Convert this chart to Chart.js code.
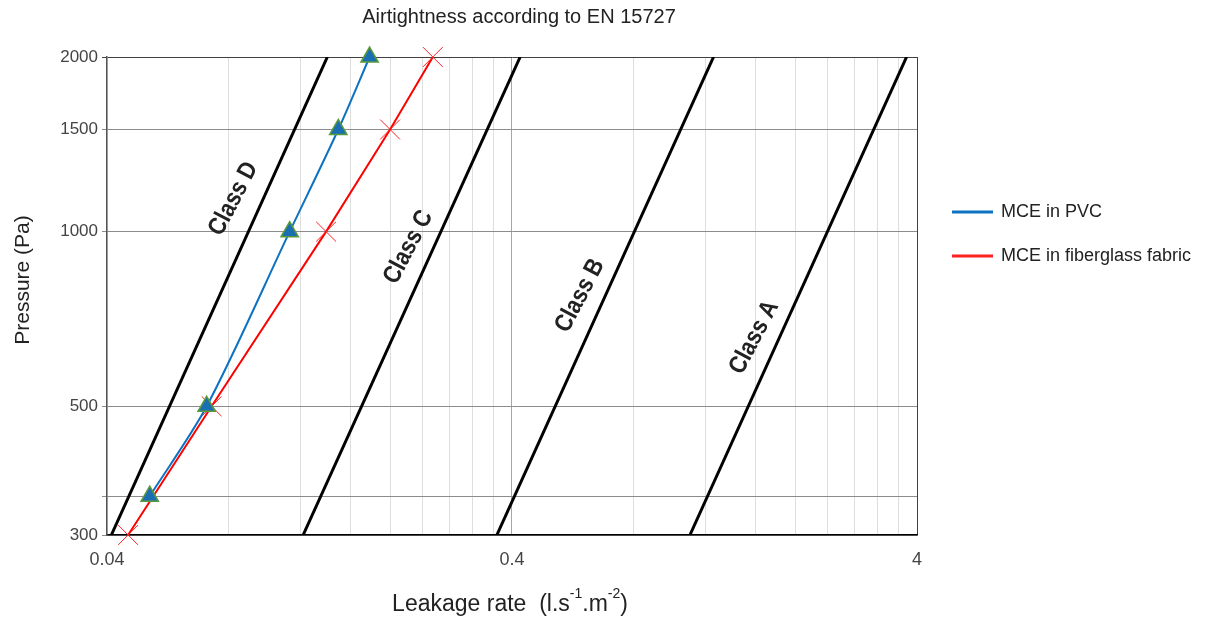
<!DOCTYPE html>
<html>
<head>
<meta charset="utf-8">
<script src="https://cdn.jsdelivr.net/npm/chart.js@4.4.1/dist/chart.umd.min.js"></script>
<style>
  body { margin: 0; background: #fff; }
  #wrap { width: 1206px; height: 619px; position: relative; }
</style>
</head>
<body>
<div id="wrap"><canvas id="airChart"></canvas></div>
<script>
// Chart data
const chartTitle = "Airtightness according to EN 15727";
const seriesNames = ["MCE in PVC", "MCE in fiberglass fabric"];

// MCE in PVC (triangles)
const pvcPressure = [350, 500, 1000, 1500, 2000];
const pvcLeakage = [0.051, 0.0705, 0.113, 0.149, 0.178];

// MCE in fiberglass fabric (crosses)
const fabricPressure = [300, 500, 1000, 1500, 2000];
const fabricLeakage = [0.0451, 0.0725, 0.139, 0.200, 0.255];

// Class limit lines: leakage at 300 Pa and at 2000 Pa
const classNames = ["Class D", "Class C", "Class B", "Class A"];
const classPressure = [300, 2000];
const classD = [0.041, 0.140];
const classC = [0.122, 0.419];
const classB = [0.367, 1.258];
const classA = [1.10, 3.77];
const classLeakage = [classD, classC, classB, classA];
const classLabelPressure = [1090, 905, 747, 633];

// Axis ticks / gridlines
const xTickValues = [0.04, 0.08, 0.12, 0.16, 0.2, 0.24, 0.28, 0.32, 0.36, 0.4,
                     0.8, 1.2, 1.6, 2, 2.4, 2.8, 3.2, 3.6, 4];
const xTickLabels = [0.04, 0.4, 4];
const yTickValues = [300, 350, 500, 1000, 1500, 2000];
const yTickLabels = [300, 500, 1000, 1500, 2000];

const FONT = '"Liberation Sans", Arial, sans-serif';

function toPoints(xs, ys) {
    return xs.map((x, i) => ({ x: x, y: ys[i] }));
}

// Titles, class labels and legend drawn on the canvas
const extrasPlugin = {
    id: "extras",
    afterDraw(chart) {
        const ctx = chart.ctx;
        const xs = chart.scales.x;
        const ys = chart.scales.y;
        ctx.save();

        // title
        ctx.fillStyle = "#222";
        ctx.font = "20px " + FONT;
        ctx.textAlign = "center";
        ctx.textBaseline = "middle";
        ctx.fillText(chartTitle, 519, 17);

        // y axis title
        ctx.save();
        ctx.translate(23, 280);
        ctx.rotate(-Math.PI / 2);
        ctx.font = "21px " + FONT;
        ctx.fillText("Pressure (Pa)", 0, 0);
        ctx.restore();

        // x axis title with superscripts
        const parts = [["Leakage rate  (l.s", false], ["-1", true], [".m", false], ["-2", true], [")", false]];
        const big = "23px " + FONT, small = "14px " + FONT;
        let total = 0;
        parts.forEach(p => { ctx.font = p[1] ? small : big; total += ctx.measureText(p[0]).width; });
        let cx = 510 - total / 2;
        ctx.textAlign = "left";
        ctx.textBaseline = "alphabetic";
        parts.forEach(p => {
            ctx.font = p[1] ? small : big;
            ctx.fillText(p[0], cx, p[1] ? 598 : 611);
            cx += ctx.measureText(p[0]).width;
        });

        // class labels along the lines (text a little less steep than the line)
        ctx.font = "bold 25px " + FONT;
        ctx.fillStyle = "#222";
        ctx.textAlign = "center";
        classLeakage.forEach((c, i) => {
            const x0 = xs.getPixelForValue(c[0]), y0 = ys.getPixelForValue(classPressure[0]);
            const x1 = xs.getPixelForValue(c[1]), y1 = ys.getPixelForValue(classPressure[1]);
            const py = ys.getPixelForValue(classLabelPressure[i]);
            const t = (py - y0) / (y1 - y0);
            const px = x0 + t * (x1 - x0);
            const ang = Math.atan2(y1 - y0, x1 - x0);
            const off = i === 0 ? 27 : 23;
            ctx.save();
            ctx.translate(px + Math.sin(ang) * off, py - Math.cos(ang) * off);
            ctx.rotate(ang + 0.06);
            ctx.scale(0.86, 1);
            ctx.textBaseline = "middle";
            ctx.fillText(classNames[i], 0, 0);
            ctx.restore();
        });

        // legend
        const legendColors = ["#0c72c1", "#ff2020"];
        const legendY = [212, 256];
        ctx.font = "18px " + FONT;
        ctx.textAlign = "left";
        ctx.textBaseline = "middle";
        seriesNames.forEach((name, i) => {
            ctx.strokeStyle = legendColors[i];
            ctx.lineWidth = 3;
            ctx.beginPath();
            ctx.moveTo(952, legendY[i]);
            ctx.lineTo(993, legendY[i]);
            ctx.stroke();
            ctx.fillStyle = "#222";
            ctx.fillText(name, 1001, legendY[i]);
        });
        ctx.restore();
    }
};

const classDatasets = classLeakage.map((c, i) => ({
    label: classNames[i],
    data: toPoints(c, classPressure),
    showLine: true,
    borderColor: "#000",
    borderWidth: 3,
    pointRadius: 0,
    order: 1
}));

const ctx = document.getElementById("airChart").getContext("2d");
const airChart = new Chart(ctx, {
    type: "scatter",
    data: {
        datasets: [
            {
                label: seriesNames[0],
                data: toPoints(pvcLeakage, pvcPressure),
                showLine: true,
                borderColor: "#0c72c1",
                borderWidth: 2,
                tension: 0.3,
                pointStyle: "triangle",
                pointRadius: 10,
                pointBackgroundColor: "#1a6fb3",
                pointBorderColor: "#5a9a3a",
                pointBorderWidth: 1.5,
                clip: false,
                order: 0
            },
            {
                label: seriesNames[1],
                data: toPoints(fabricLeakage, fabricPressure),
                showLine: true,
                borderColor: "#ff0000",
                borderWidth: 2,
                pointStyle: "crossRot",
                pointRadius: 14,
                pointBorderColor: "#ff2020",
                pointBorderWidth: 1,
                clip: false,
                order: 0
            },
            ...classDatasets
        ]
    },
    options: {
        responsive: true,
        maintainAspectRatio: false,
        animation: false,
        layout: { padding: { top: 57, right: 289, bottom: 0, left: 0 } },
        plugins: {
            legend: { display: false },
            tooltip: { enabled: false },
            title: { display: false }
        },
        scales: {
            x: {
                type: "logarithmic",
                min: 0.04,
                max: 4,
                afterBuildTicks: function(scale) {
                    scale.ticks = xTickValues.map(v => ({ value: v }));
                },
                afterFit: function(scale) { scale.height = 84; },
                grid: {
                    drawTicks: false,
                    color: function(c) {
                        const v = c.tick && c.tick.value;
                        if (v === 4) return "#404040";
                        if (v === 0.4) return "#a6a6a6";
                        return "#dedede";
                    }
                },
                border: { color: "#000", width: 1.5 },
                ticks: {
                    autoSkip: false,
                    maxRotation: 0,
                    padding: 14,
                    color: "#444",
                    font: { family: FONT, size: 18 },
                    callback: function(value) {
                        return xTickLabels.includes(value) ? String(value) : "";
                    }
                }
            },
            y: {
                type: "logarithmic",
                min: 300,
                max: 2000,
                afterBuildTicks: function(scale) {
                    scale.ticks = yTickValues.map(v => ({ value: v }));
                },
                afterFit: function(scale) { scale.width = 107; },
                grid: {
                    tickLength: 5,
                    color: function(c) {
                        const v = c.tick && c.tick.value;
                        if (v === 2000) return "#404040";
                        return "#8c8c8c";
                    }
                },
                border: { color: "#555", width: 1.5 },
                ticks: {
                    autoSkip: false,
                    padding: 4,
                    color: "#444",
                    font: { family: FONT, size: 17 },
                    callback: function(value) {
                        return yTickLabels.includes(value) ? String(value) : "";
                    }
                }
            }
        }
    },
    plugins: [extrasPlugin]
});
</script>
</body>
</html>
